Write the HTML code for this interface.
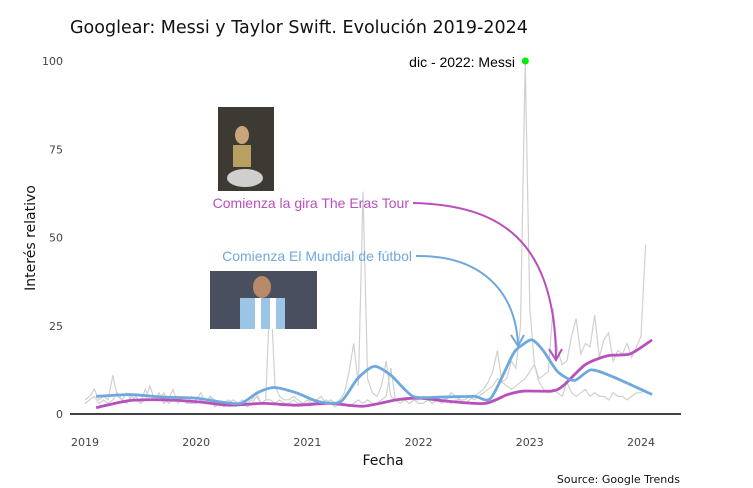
<!DOCTYPE html>
<html><head><meta charset="utf-8"><style>
html,body{margin:0;padding:0;background:#fff;}
svg{display:block;font-family:"DejaVu Sans","Liberation Sans",sans-serif;}
</style></head><body>
<svg id="chart" width="753" height="488" viewBox="0 0 753 488">
<rect width="753" height="488" fill="#fff"/>
<text x="70" y="33" font-size="17.5" fill="#111">Googlear: Messi y Taylor Swift. Evolución 2019-2024</text>
<g id="yticks"></g>
<g id="xticks"></g>
<text x="35" y="238" font-size="14" fill="#111" transform="rotate(-90 35 238)" text-anchor="middle">Interés relativo</text>
<text x="383" y="465" font-size="14" fill="#111" text-anchor="middle">Fecha</text>
<text x="680" y="483" font-size="11" fill="#111" text-anchor="end">Source: Google Trends</text>
<g id="raw"></g>
<line x1="70" x2="681" y1="414" y2="414" stroke="#000" stroke-width="1.5"/>
<g id="smooth"></g>
<g>
<rect x="218" y="107" width="56" height="84" fill="#3d3a33"/>
<ellipse cx="242" cy="135" rx="7" ry="9" fill="#c9a57a"/>
<rect x="233" y="145" width="18" height="22" fill="#b8a060"/>
<ellipse cx="245" cy="178" rx="18" ry="9" fill="#cfcfcf"/>
</g>
<g>
<rect x="210" y="271" width="107" height="58" fill="#4a4f60"/>
<ellipse cx="262" cy="287" rx="9" ry="11" fill="#b88a6a"/>
<rect x="240" y="298" width="45" height="31" fill="#9cc4e4"/>
<rect x="255" y="298" width="6" height="31" fill="#fff"/>
<rect x="270" y="298" width="6" height="31" fill="#fff"/>
</g>
<text x="409" y="208" font-size="14" fill="#b84fbd" text-anchor="end" font-family="Liberation Sans, sans-serif">Comienza la gira The Eras Tour</text>
<path d="M413 203 C 500 205, 555 240, 556 358" fill="none" stroke="#b84fbd" stroke-width="2"/>
<path d="M549 349 L556 360 L562 349" fill="none" stroke="#b84fbd" stroke-width="2"/>
<text x="412" y="261" font-size="14" fill="#6fa8dc" text-anchor="end" font-family="Liberation Sans, sans-serif">Comienza El Mundial de fútbol</text>
<path d="M416 256 C 480 255, 515 290, 518 344" fill="none" stroke="#6fa8dc" stroke-width="2"/>
<path d="M511 335 L518 346 L524 335" fill="none" stroke="#6fa8dc" stroke-width="2"/>
<text x="515" y="67" font-size="14" fill="#000" text-anchor="end" font-family="Liberation Sans, sans-serif">dic - 2022: Messi</text>
<circle id="peak" r="3.5" fill="#00ee00"/>
</svg>
<script>
const yTicks=[0,25,50,75,100];
const xTicks=[2019,2020,2021,2022,2023,2024];
// raw half-monthly series starting 2019.0
const rawStart=2019.0;
const messiRaw=[4,5,7,4,5,4,11,5,4,6,4,5,3,7,4,5,4,6,3,4,5,4,3,5,
4,6,3,5,4,3,3,4,3,3,4,3,4,6,3,4,36,8,5,4,4,5,4,3,
4,3,4,5,3,4,3,4,6,12,20,8,63,10,6,5,8,15,5,4,4,4,3,4,
4,5,4,5,4,5,4,6,5,4,3,4,5,6,7,9,12,18,9,10,15,13,25,100,
30,14,9,7,6,7,6,5,9,6,5,6,7,5,6,5,5,4,6,5,5,4,5,6,
6,7];
const taylorRaw=[3,4,5,3,4,3,4,6,4,3,5,4,3,4,8,4,6,3,4,7,3,4,3,3,
3,4,3,5,2,3,2,3,4,3,3,2,3,5,3,4,4,3,4,3,3,4,3,3,
3,4,3,3,4,3,2,3,3,2,3,4,3,4,3,3,4,5,13,4,3,4,3,4,
3,3,4,3,4,3,4,3,4,4,4,5,4,5,6,7,8,10,9,8,7,8,9,10,
12,14,10,11,12,30,18,14,15,22,27,17,20,19,28,16,21,23,15,18,17,20,16,19,
22,48];
const smoothYears=[2019.1,2019.4,2019.7,2020.0,2020.2,2020.4,2020.55,2020.7,2020.9,2021.1,2021.3,2021.45,2021.6,2021.75,2021.95,2022.2,2022.5,2022.65,2022.85,2022.93,2023.02,2023.12,2023.25,2023.4,2023.55,2023.75,2024.1];
const messiSmooth=[5,5.5,4.8,4.5,3.5,3,6,7.5,6,3.5,3.5,10,13.5,11,5,4.8,5,4.5,17,19.5,21,18,12,9.5,12.5,10.5,5.5];
const taylorYears=[2019.1,2019.4,2019.7,2020.0,2020.3,2020.6,2020.9,2021.2,2021.5,2021.8,2022.0,2022.3,2022.6,2022.8,2022.95,2023.2,2023.3,2023.5,2023.7,2023.9,2024.1];
const taylorSmooth=[1.8,3.8,4,3.5,2.5,3,2.5,3,2.2,4,4.5,3.5,3,5.5,6.5,6.5,8,14,16.5,17,21];
const peakYear=2022.96, peakValue=100;

const X=t=>85+(t-2019)*(641-85)/5;
const Y=v=>414-v*(414-61)/100;
const NS="http://www.w3.org/2000/svg";
function mk(tag,attrs,parent){const e=document.createElementNS(NS,tag);for(const k in attrs)e.setAttribute(k,attrs[k]);parent.appendChild(e);return e;}
const yg=document.getElementById('yticks');
yTicks.forEach(v=>{const t=mk('text',{x:63,y:Y(v)+4,'font-size':11,fill:'#444','text-anchor':'end'},yg);t.textContent=v;

});
const xg=document.getElementById('xticks');
xTicks.forEach(v=>{const t=mk('text',{x:X(v),y:446,'font-size':11,fill:'#444','text-anchor':'middle'},xg);t.textContent=v;

});
function pts(xs,ys){return ys.map((v,i)=>X(xs[i]).toFixed(1)+','+Y(v).toFixed(1)).join(' ');}
function smoothPath(xs,ys){const p=xs.map((x,i)=>[X(x),Y(ys[i])]);let d='M'+p[0][0]+','+p[0][1];
for(let i=0;i<p.length-1;i++){const p0=p[i-1]||p[i],p1=p[i],p2=p[i+1],p3=p[i+2]||p2;
d+=' C'+(p1[0]+(p2[0]-p0[0])/8)+','+(p1[1]+(p2[1]-p0[1])/8)+' '+(p2[0]-(p3[0]-p1[0])/8)+','+(p2[1]-(p3[1]-p1[1])/8)+' '+p2[0]+','+p2[1];}return d;}
const rg=document.getElementById('raw');
const rx=messiRaw.map((_,i)=>rawStart+i/24);
const l1=mk('polyline',{points:pts(rx,messiRaw),fill:'none',stroke:'#d0d0d0','stroke-width':1.2},rg);


const rx2=taylorRaw.map((_,i)=>rawStart+i/24);
const l2=mk('polyline',{points:pts(rx2,taylorRaw),fill:'none',stroke:'#d0d0d0','stroke-width':1.2},rg);


const sg=document.getElementById('smooth');
const s1=mk('path',{d:smoothPath(taylorYears,taylorSmooth),fill:'none',stroke:'#b84fbd','stroke-width':2.8},sg);


const s2=mk('path',{d:smoothPath(smoothYears,messiSmooth),fill:'none',stroke:'#6fa8dc','stroke-width':2.8},sg);


const pk=document.getElementById('peak');pk.setAttribute('cx',X(peakYear));pk.setAttribute('cy',Y(peakValue));
</script>
</body></html>
